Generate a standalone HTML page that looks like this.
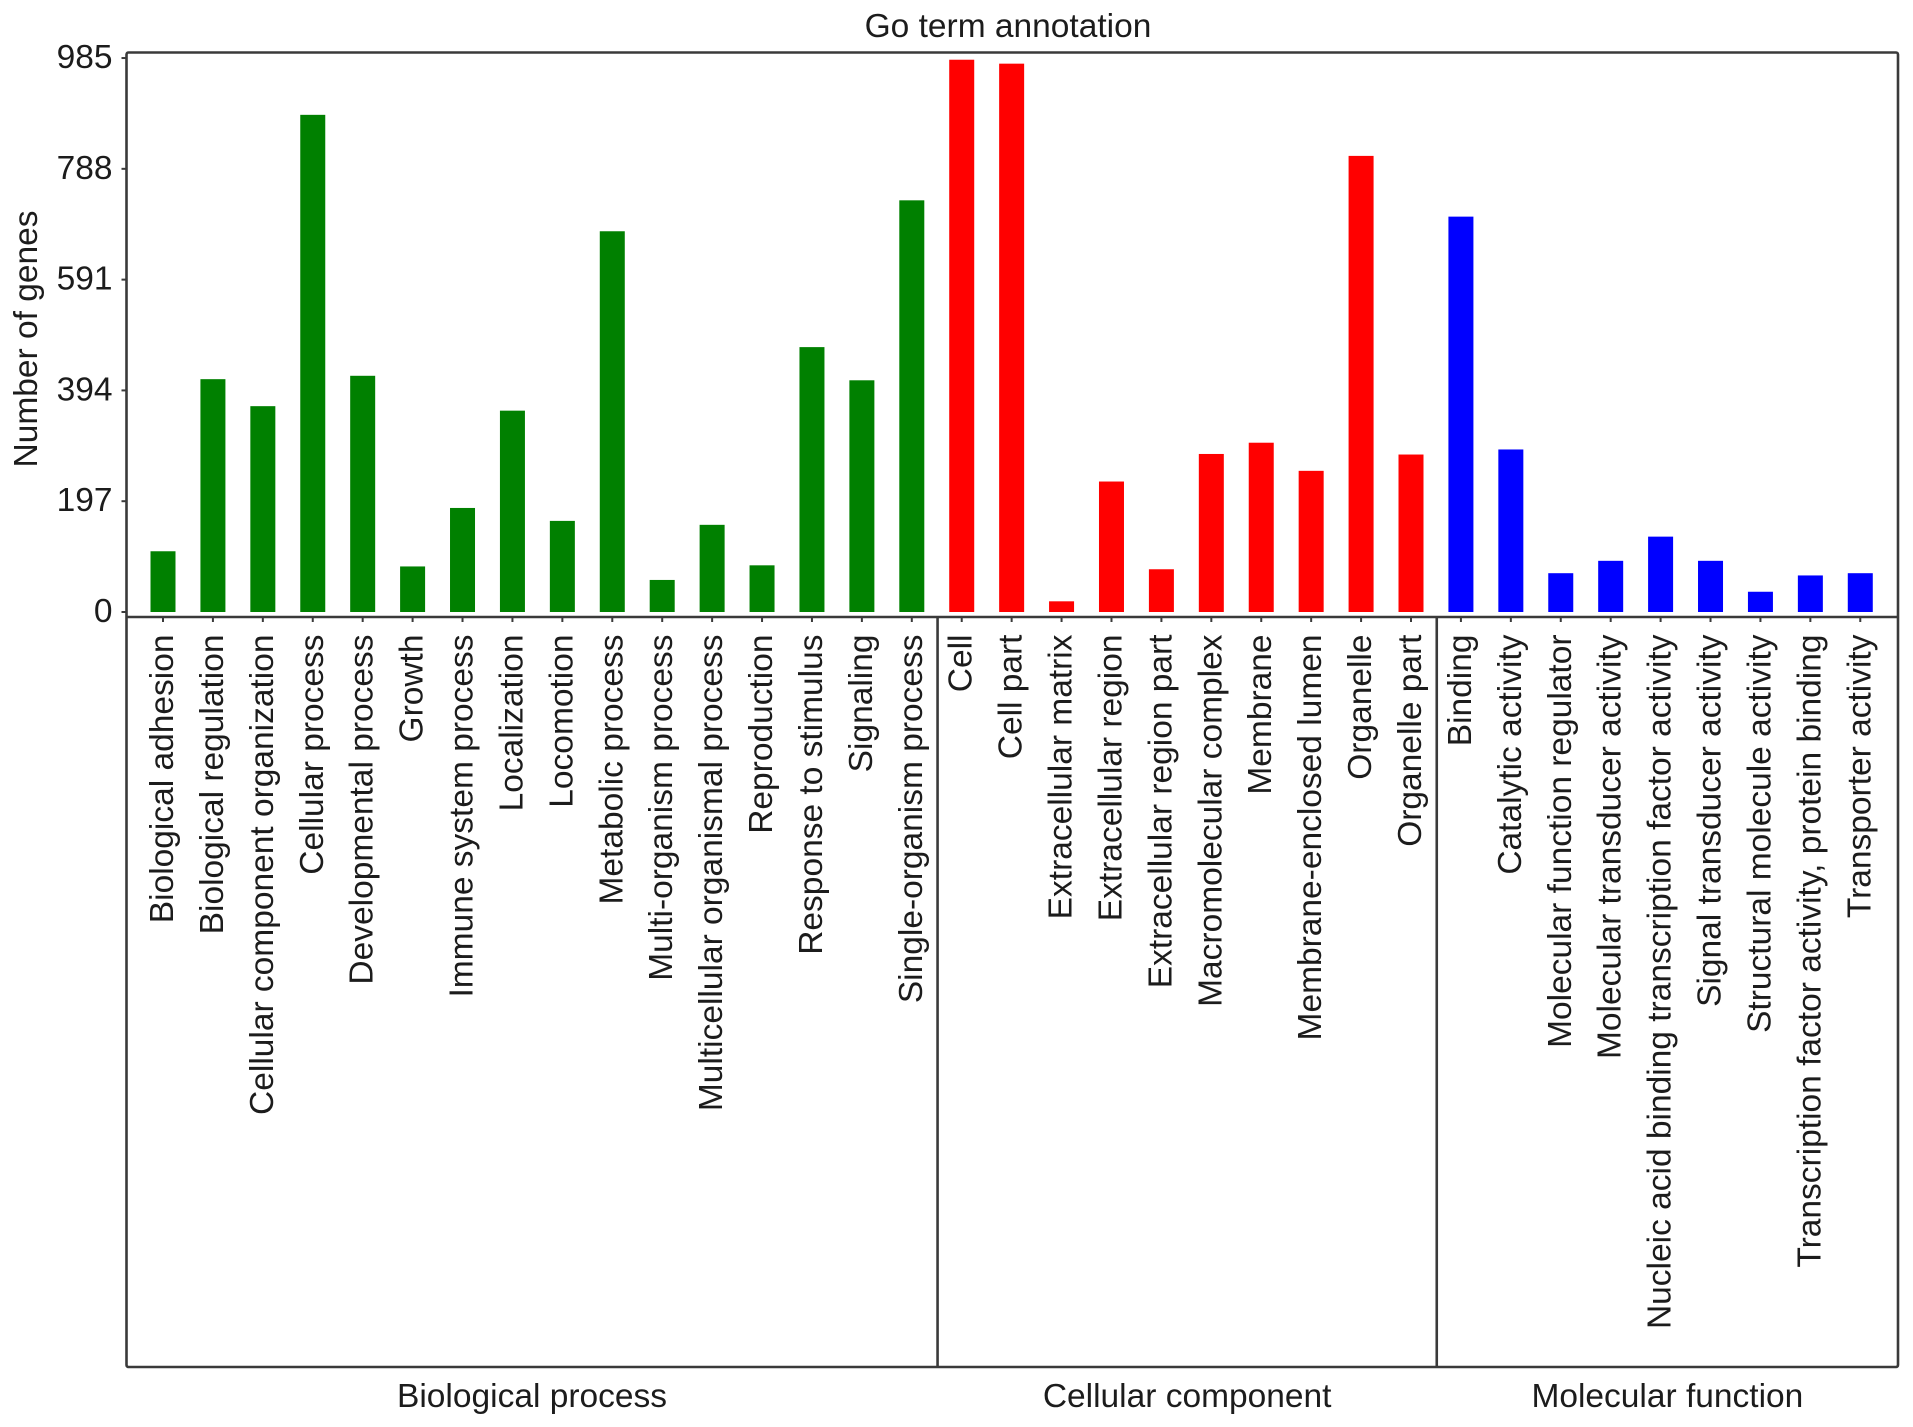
<!DOCTYPE html>
<html lang="en">
<head>
<meta charset="utf-8">
<title>Go term annotation</title>
<style>
html,body{margin:0;padding:0;background:#fff;width:1913px;height:1427px;overflow:hidden}
svg{display:block}
text{font-family:"Liberation Sans",Arial,sans-serif;font-size:33.5px;fill:#1c1c1c}
</style>
</head>
<body>
<svg id="chart" xmlns="http://www.w3.org/2000/svg" width="1913" height="1427" viewBox="0 0 1913 1427">
  <rect x="0" y="0" width="1913" height="1427" fill="#fff"/>
  <text x="1008" y="37" text-anchor="middle">Go term annotation</text>
  <text transform="translate(37,339) rotate(-90)" text-anchor="middle">Number of genes</text>
  <g id="marks"></g>
  <g id="axes"></g>
</svg>
<script>
const categories = ["Biological adhesion","Biological regulation","Cellular component organization","Cellular process","Developmental process","Growth","Immune system process","Localization","Locomotion","Metabolic process","Multi-organism process","Multicellular organismal process","Reproduction","Response to stimulus","Signaling","Single-organism process","Cell","Cell part","Extracellular matrix","Extracellular region","Extracellular region part","Macromolecular complex","Membrane","Membrane-enclosed lumen","Organelle","Organelle part","Binding","Catalytic activity","Molecular function regulator","Molecular transducer activity","Nucleic acid binding transcription factor activity","Signal transducer activity","Structural molecule activity","Transcription factor activity, protein binding","Transporter activity"];
const biologicalProcessValues = [108,414,366,884,420,81,185,358,162,677,57,155,83,471,412,732];
const cellularComponentValues = [982,975,19,232,76,281,301,251,811,280];
const molecularFunctionValues = [703,289,69,91,134,91,36,65,69];
const yTickLabels = [985,788,591,394,197,0];
const groupNames = ["Biological process","Cellular component","Molecular function"];
const groupColors = ["#008000","#ff0000","#0000ff"];

const NS = "http://www.w3.org/2000/svg";
const marks = document.getElementById("marks");
const axes = document.getElementById("axes");
const frame = {left:126.5, right:1898, top:52.5, bottom:1367, axisY:617};
const zeroY = 612, pxPerUnit = 0.5624;
const firstX = 163, stepX = 49.92, barWidth = 25;

function xScale(i){ return firstX + stepX * i; }
function yScale(v){ return zeroY - v * pxPerUnit; }
function make(tag, attrs){
  const el = document.createElementNS(NS, tag);
  for (const k in attrs) el.setAttribute(k, attrs[k]);
  return el;
}
function slug(s){ return s.toLowerCase().replace(/[^a-z0-9]+/g, "-").replace(/-$/, ""); }

const groups = [biologicalProcessValues, cellularComponentValues, molecularFunctionValues];
const lineStyle = {stroke:"#3a3a3a", "stroke-width":2.6, fill:"none"};

// bars, ticks and category labels
let index = 0;
groups.forEach(function(values, g){
  values.forEach(function(v){
    const cx = xScale(index);
    const name = slug(categories[index]);
    const bar = make("rect", {x:cx - barWidth/2, y:yScale(v), width:barWidth, height:zeroY - yScale(v), fill:groupColors[g]});
    
    
    marks.appendChild(bar);

    const tick = make("line", {x1:cx, x2:cx, y1:frame.axisY, y2:frame.axisY + 5, stroke:"#3a3a3a", "stroke-width":2});
    
    
    axes.appendChild(tick);

    const label = make("text", {transform:"translate(" + (cx + 10) + ",634.5) rotate(-90)", "text-anchor":"end"});
    
    
    label.textContent = categories[index];
    axes.appendChild(label);
    index++;
  });
});

// y ticks
yTickLabels.forEach(function(t){
  const y = yScale(t);
  const tick = make("line", {x1:frame.left - 5, x2:frame.left, y1:y, y2:y, stroke:"#3a3a3a", "stroke-width":2});
  
  
  axes.appendChild(tick);
  const label = make("text", {x:frame.left - 14, y:y + 10, "text-anchor":"end"});
  
  
  label.textContent = t;
  axes.appendChild(label);
});

// frame, baseline, dividers, group labels
const border = make("rect", Object.assign({x:frame.left, y:frame.top, width:frame.right - frame.left, height:frame.bottom - frame.top, rx:2}, lineStyle));


axes.appendChild(border);

const baseline = make("line", Object.assign({x1:frame.left, x2:frame.right, y1:frame.axisY, y2:frame.axisY}, lineStyle));


axes.appendChild(baseline);

let start = 0, leftEdge = frame.left;
groups.forEach(function(values, g){
  const end = start + values.length;
  const rightEdge = g === groups.length - 1 ? frame.right : (xScale(end - 1) + xScale(end)) / 2 + 0.8;
  if (g < groups.length - 1) {
    const divider = make("line", Object.assign({x1:rightEdge, x2:rightEdge, y1:frame.axisY, y2:frame.bottom}, lineStyle));
    
    
    axes.appendChild(divider);
  }
  const groupLabel = make("text", {x:(leftEdge + rightEdge) / 2, y:1407, "text-anchor":"middle"});
  
  
  groupLabel.textContent = groupNames[g];
  axes.appendChild(groupLabel);
  start = end;
  leftEdge = rightEdge;
});
</script>
</body>
</html>
